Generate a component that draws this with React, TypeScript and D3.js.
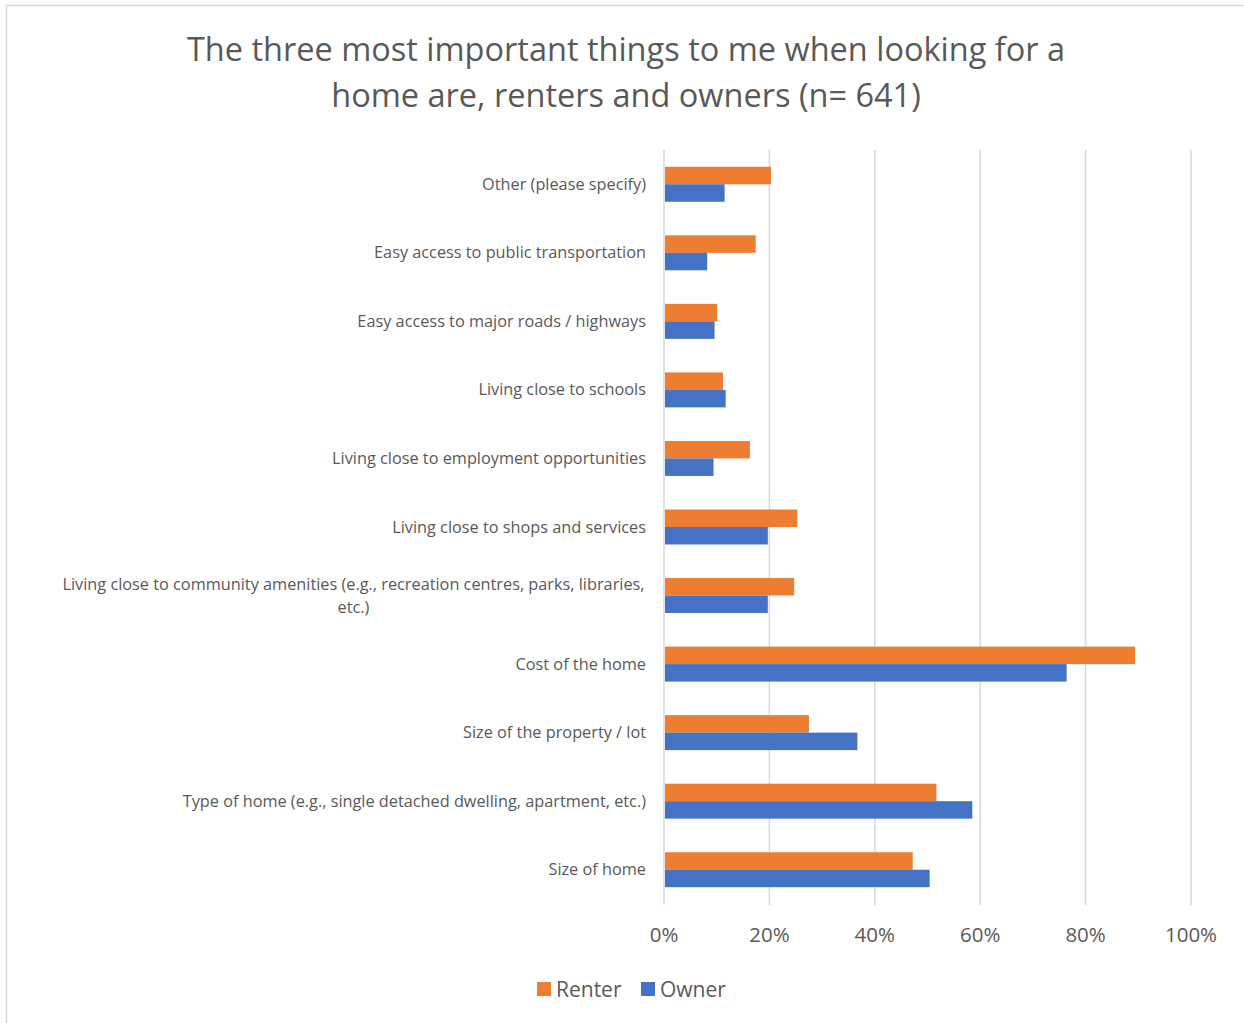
import React from "react";
import * as d3 from "d3";

const categories: string[][] = [
  ["Other (please specify)"],
  ["Easy access to public transportation"],
  ["Easy access to major roads / highways"],
  ["Living close to schools"],
  ["Living close to employment opportunities"],
  ["Living close to shops and services"],
  ["Living close to community amenities (e.g., recreation centres, parks, libraries,", "etc.)"],
  ["Cost of the home"],
  ["Size of the property / lot"],
  ["Type of home (e.g., single detached dwelling, apartment, etc.)"],
  ["Size of home"],
];
const renter = [0.203, 0.174, 0.101, 0.112, 0.163, 0.253, 0.247, 0.894, 0.275, 0.517, 0.472];
const owner = [0.115, 0.082, 0.096, 0.117, 0.094, 0.197, 0.197, 0.764, 0.367, 0.585, 0.504];
const seriesNames = ["Renter", "Owner"];
const seriesColors = ["#ED7D31", "#4472C4"];
const xTicks = [0, 0.2, 0.4, 0.6, 0.8, 1.0];
const titleLines = [
  "The three most important things to me when looking for a",
  "home are, renters and owners (n= 641)",
];

const W = 1244;
const H = 1023;
const FONT = "'Open Sans', 'DejaVu Sans', sans-serif";
const TEXT = "#595959";
const GRID = "#D9D9D9";

export default function App() {
  const x = d3.scaleLinear().domain([0, 1]).range([664, 1191]);
  const keys = categories.map((_, i) => String(i));
  const p = 0.49;
  const y = d3.scaleBand().domain(keys).range([150, 904]).paddingInner(p).paddingOuter(p / 2);
  const sub = d3.scaleBand().domain(seriesNames).range([0, y.bandwidth()]);
  const values = [renter, owner];
  const fmt = d3.format(".0%");

  return (
    <svg width={W} height={H} style={{ position: "absolute", left: 0, top: 0, background: "#fff" }} fontFamily={FONT}>
      <rect x={0} y={0} width={W} height={H} fill="#fff" />
      <line x1={6.5} x2={W} y1={5.5} y2={5.5} stroke={GRID} strokeWidth={1.5} />
      <line x1={6.5} x2={6.5} y1={5.5} y2={H} stroke={GRID} strokeWidth={1.5} />

      {titleLines.map((t, i) => (
        <text key={i} x={626} y={61 + i * 46} textAnchor="middle" fontSize={32.5} fill={TEXT}>
          {t}
        </text>
      ))}

      {xTicks.map((t) => (
        <line key={t} x1={x(t)} x2={x(t)} y1={150} y2={905} stroke={GRID} strokeWidth={1.5} />
      ))}

      {categories.map((_, i) =>
        values.map((vals, s) => (
          <rect
            key={`${i}-${s}`}
            x={x(0) + 1}
            y={(y(String(i)) as number) + (sub(seriesNames[s]) as number)}
            width={x(vals[i]) - x(0) - 1}
            height={sub.bandwidth()}
            fill={seriesColors[s]}
          />
        ))
      )}

      {categories.map((lines, i) => {
        const cy = (y(String(i)) as number) + y.bandwidth() / 2;
        if (lines.length === 1) {
          return (
            <text key={i} x={646} y={cy + 5.5} textAnchor="end" fontSize={16.3} fill={TEXT}>
              {lines[0]}
            </text>
          );
        }
        return (
          <text key={i} x={353.5} y={cy - 11.5 + 5.5} textAnchor="middle" fontSize={16.3} fill={TEXT}>
            {lines.map((l, j) => (
              <tspan key={j} x={353.5} dy={j === 0 ? 0 : 23}>
                {l}
              </tspan>
            ))}
          </text>
        );
      })}

      {xTicks.map((t) => (
        <text key={t} x={x(t)} y={942} textAnchor="middle" fontSize={20.5} fill={TEXT}>
          {fmt(t)}
        </text>
      ))}

      {seriesNames.map((n, s) => {
        const lx = [537, 641][s];
        return (
          <g key={n}>
            <rect x={lx} y={982} width={14} height={14} fill={seriesColors[s]} />
            <text x={lx + 19} y={996.5} fontSize={21} fill={TEXT}>
              {n}
            </text>
          </g>
        );
      })}
    </svg>
  );
}
